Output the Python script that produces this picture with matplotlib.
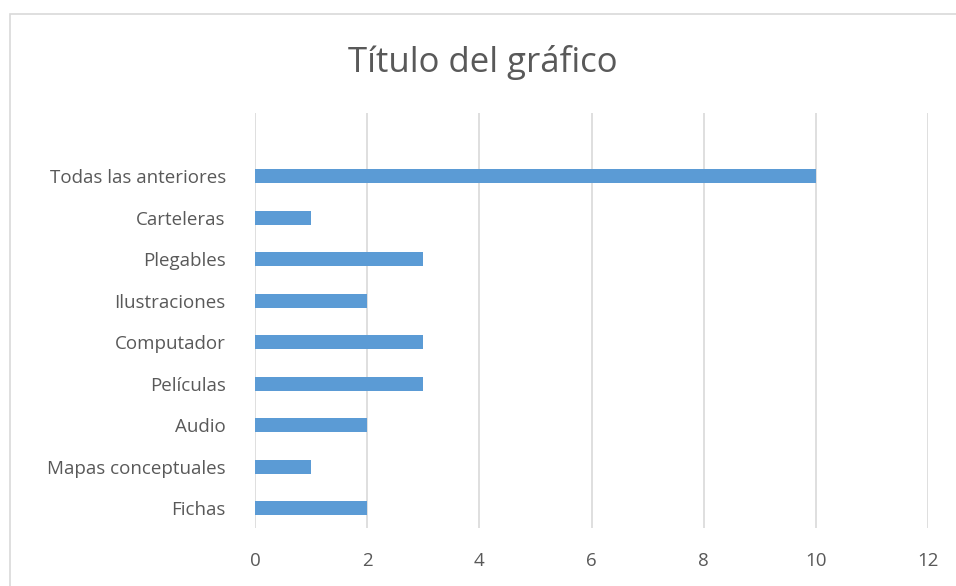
import matplotlib.pyplot as plt
from matplotlib.patches import Rectangle

categorias = [
    "Fichas",
    "Mapas conceptuales",
    "Audio",
    "Películas",
    "Computador",
    "Ilustraciones",
    "Plegables",
    "Carteleras",
    "Todas las anteriores",
]
valores = [2, 1, 2, 3, 3, 2, 3, 1, 10]
ticks_x = [0, 2, 4, 6, 8, 10, 12]

plt.rcParams["font.family"] = ["Open Sans", "DejaVu Sans"]

fig = plt.figure(figsize=(9.56, 5.86), dpi=100)
# borde del grafico (recortado a la derecha y abajo)
fig.patches.append(
    Rectangle((9.5 / 956, -0.01), 1.0, 1 - 13.5 / 586 + 0.01,
              transform=fig.transFigure, fill=False,
              edgecolor="#d9d9d9", linewidth=1.2)
)

ax = fig.add_axes([255 / 956, 1 - 528 / 586, (928 - 255) / 956, (528 - 113) / 586])
pos = list(range(len(categorias)))
ax.barh(pos, valores, height=0.34, color="#5b9bd5", zorder=3)

ax.set_xlim(0, 12)
ax.set_ylim(-0.48, 9.52)
ax.set_xticks(ticks_x)
ax.set_xticklabels([str(t) for t in ticks_x])
ax.set_yticks(pos)
ax.set_yticklabels(categorias)
ax.grid(axis="x", color="#d9d9d9", linewidth=1.2, zorder=0)
for s in ax.spines.values():
    s.set_visible(False)
ax.tick_params(axis="both", length=0, colors="#595959", labelsize=13.5)
ax.tick_params(axis="y", pad=21)
ax.tick_params(axis="x", pad=17)

fig.text(483 / 956, 1 - 62 / 586, "Título del gráfico", ha="center", va="center",
         fontsize=25, color="#595959")

fig.savefig("out.png", dpi=100)
